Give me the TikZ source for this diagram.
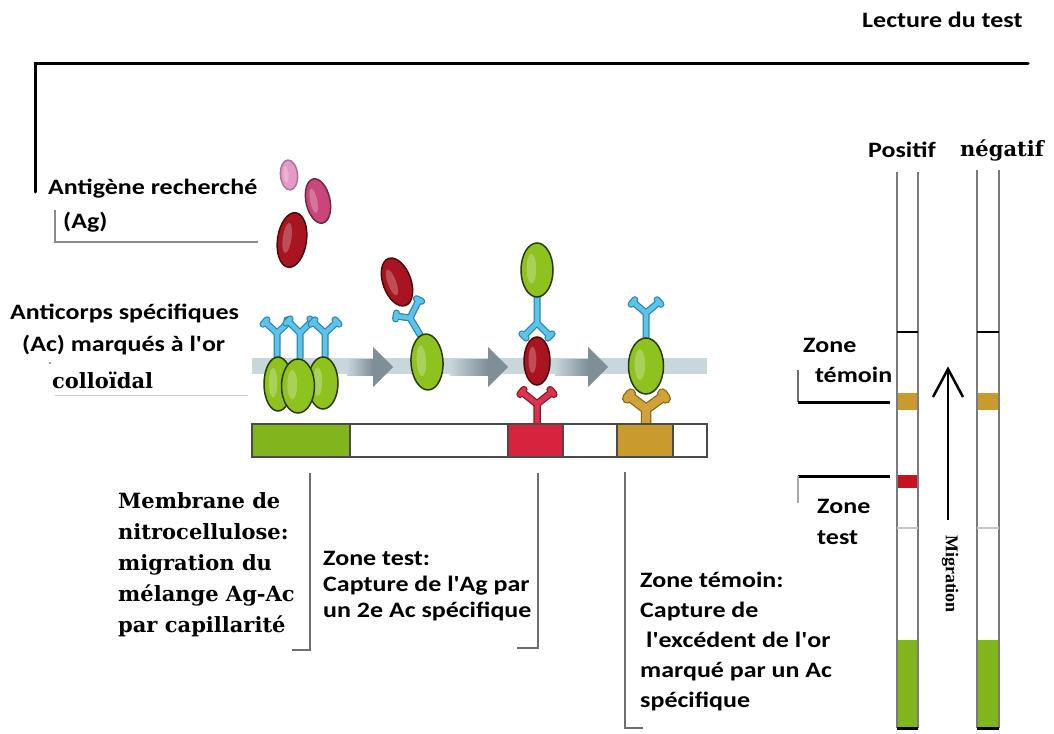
\documentclass[tikz,border=0pt]{standalone}
\usepackage{fontspec}
\setmainfont{Carlito}
\newfontfamily\slabserif{DejaVu Serif}
\newfontfamily\narrowserif{Liberation Serif}
\usetikzlibrary{calc}

\definecolor{partgreen}{HTML}{8DC21F}
\definecolor{partedge}{HTML}{2B3A05}
\definecolor{abblue}{HTML}{5CC3EA}
\definecolor{abblueedge}{HTML}{2C86B0}
\definecolor{abred}{HTML}{D8354D}
\definecolor{abredge}{HTML}{8E1426}
\definecolor{abgold}{HTML}{CFA23A}
\definecolor{abgoldedge}{HTML}{8A6716}
\definecolor{agred}{HTML}{A8141F}
\definecolor{agpink}{HTML}{C9467A}
\definecolor{agpale}{HTML}{E49AC6}
\definecolor{zonered}{HTML}{D8233F}
\definecolor{bandred}{HTML}{C8101E}
\definecolor{zonegold}{HTML}{C99A2E}
\definecolor{stripgreen}{HTML}{80B51B}
\definecolor{flowband}{HTML}{C9D6DB}
\definecolor{flowarrow}{HTML}{7E8F98}
\definecolor{guidegray}{HTML}{6E6E6E}
\definecolor{stripedge}{HTML}{4A4A4A}
\definecolor{tubeedge}{HTML}{7A7A7A}

% straight apostrophe
\newcommand\ap{\textquotesingle}

% ellipse particle with a soft highlight: cx, cy, rx, ry, tilt, fill, edge
\newcommand\blob[7]{%
  \begin{scope}[rotate around={#5:(#1,#2)}]
    \draw[line width=1.5, draw=#7, fill=#6] (#1,#2) ellipse [x radius=#3, y radius=#4];
    \fill[white, opacity=.25] (#1-0.35*#3,#2-0.05*#4) ellipse [x radius=0.3*#3, y radius=0.55*#4];
  \end{scope}}

% Y-shaped antibody: fill, edge, base, fork, tip 1, tip 2, inner width, outer width
\newcommand\antibody[8]{%
  \draw[line width=#8, #2, line cap=round, line join=round]
    #3 -- #4 #5 -- #4 -- #6
    ($#5!3pt!90:#4$) -- ($#5!3pt!-90:#4$) ($#6!3pt!90:#4$) -- ($#6!3pt!-90:#4$);
  \draw[line width=#7, #1, line cap=round, line join=round]
    #3 -- #4 #5 -- #4 -- #6
    ($#5!3pt!90:#4$) -- ($#5!3pt!-90:#4$) ($#6!3pt!90:#4$) -- ($#6!3pt!-90:#4$);}

% grey flow arrow on the band: shaft start, head base, tip
\newcommand\flowarrow[3]{%
  \shade[left color=flowband, right color=flowarrow] (#1,359) rectangle (#2,375);
  \fill[flowarrow] (#2,347) -- (#3,367) -- (#2,387) -- cycle;}

% read-out strip: left edge, right edge, top, extra bands
\newcommand\readstrip[4]{%
  \fill[stripgreen] (#1,640) rectangle (#2,728);
  \fill[zonegold] (#1,393) rectangle (#2,410);
  #4
  \draw[tubeedge, line width=1.8] (#1,#3) -- (#1,728) (#2,#3) -- (#2,728);
  \draw[black, line width=2] (#1,332) -- (#2,332);
  \draw[gray!45, line width=1.5] (#1,528) -- (#2,528);
  \draw[black, line width=3] (#1,728) -- (#2,728);}

\begin{document}
\begin{tikzpicture}[x=1pt,y=-1pt,
  lab/.style={inner sep=0pt, anchor=west, align=left, xscale=1.18,
    font=\bfseries\fontsize{22}{26}\selectfont},
  serlab/.style={inner sep=0pt, anchor=west, align=left,
    font=\slabserif\bfseries\fontsize{21}{31}\selectfont},
  guide/.style={draw=guidegray, line width=1.6},
  rule/.style={draw=black, line width=3},
]
\useasboundingbox (0,0) rectangle (1054,733);
\fill[white] (0,0) rectangle (1054,733);

% frame over the whole process
\draw[rule, line cap=round] (35,192) -- (35,64) -- (1028,64);
\node[lab] (lecture) at (862,20) {Lecture du test};

% antigen label and free antigens
\node[lab] (ag1) at (48,189) {Antigène recherché};
\node[lab] (ag2) at (63,222) {(Ag)};
\draw[guide, draw=guidegray!80] (55,210) -- (55,242) -- (258,242);
\blob{289}{175}{8.5}{15}{5}{agpale}{agpale!75!black}
\blob{318}{201}{12}{22.5}{12}{agpink}{agpink!55!black}
\blob{292}{240}{14.5}{27.5}{-8}{agred}{agred!45!black}

% gold-labelled antibody label
\node[lab] (ac1) at (10,313) {Anticorps spécifiques};
\node[lab] (ac2) at (22,345) {(Ac) marqués à l\ap or};
\node[serlab] (ac3) at (52,380) {colloïdal};
\fill[gray] (50,363) circle (1.2);
\draw[gray!40, line width=1] (55,395) -- (248,395);

% migration band with arrows
\fill[flowband] (252,358) rectangle (707,374);
\flowarrow{347}{373}{393}
\flowarrow{450}{488}{508}
\flowarrow{555}{588}{608}

% step 1: conjugates on the pad
\antibody{abblue}{abblueedge}{(277,358)}{(277,333)}{(265,322)}{(289,322)}{4.5}{7}
\antibody{abblue}{abblueedge}{(300,358)}{(300,333)}{(288,321)}{(312,321)}{4.5}{7}
\antibody{abblue}{abblueedge}{(325,358)}{(325,333)}{(313,322)}{(337,322)}{4.5}{7}
\blob{278}{384}{14}{27}{0}{partgreen}{partedge}
\blob{323}{383}{15}{26}{0}{partgreen}{partedge}
\blob{298}{386}{16.5}{27}{0}{partgreen}{partedge}

% step 2: antigen bound to the conjugate
\antibody{abblue}{abblueedge}{(422,338)}{(410,318)}{(396,316)}{(419,300)}{4.5}{7}
\blob{427}{362}{16}{28}{3}{partgreen}{partedge}
\blob{397}{282}{14}{25}{20}{agred}{agred!45!black}

% step 3: capture on the test line
\antibody{abblue}{abblueedge}{(537,296)}{(537,323)}{(524,336)}{(550,336)}{4.5}{7}
\antibody{abred}{abredge}{(537,424)}{(537,404)}{(522,392)}{(552,392)}{5}{7.5}
\blob{537}{270}{16}{27}{0}{partgreen}{partedge}
\blob{537}{361}{13}{24}{0}{agred}{agred!45!black}

% step 4: capture on the control line
\antibody{abblue}{abblueedge}{(646,338)}{(646,313)}{(633,302)}{(659,302)}{4.5}{7}
\antibody{abgold}{abgoldedge}{(646,424)}{(646,409)}{(629,396)}{(664,396)}{8}{10.5}
\blob{646}{366}{17.5}{28}{0}{partgreen}{partedge}

% membrane strip
\fill[stripgreen] (252,424) rectangle (350,457);
\fill[zonered] (508,424) rectangle (563,457);
\fill[zonegold] (617,424) rectangle (673,457);
\draw[stripedge, line width=1.5] (252,424) rectangle (707,457)
  (350,424) -- (350,457) (508,424) -- (508,457) (563,424) -- (563,457)
  (617,424) -- (617,457) (673,424) -- (673,457);

% captions under the strip
\draw[guide] (310,473) -- (310,650) -- (292,650);
\draw[guide] (538,473) -- (538,648) -- (517,648);
\draw[guide] (625,472) -- (625,728) -- (643,728);
\node[serlab] (membrane) at (118,565)
  {Membrane de\\nitrocellulose:\\migration du\\mélange Ag-Ac\\par capillarité};
\node[lab] (ztest) at (323,586) {Zone test:\\Capture de l\ap Ag par\\un 2e Ac spécifique};
\node[lab, font=\bfseries\fontsize{22}{30}\selectfont] (ztemoin) at (640,642)
  {Zone témoin:\\Capture de\\\hspace*{5pt}l\ap excédent de l\ap or\\marqué par un Ac\\spécifique};

% reading of the result
\node[lab] (positif) at (868,150) {Positif};
\node[serlab, font=\slabserif\bfseries\fontsize{21}{25}\selectfont] (negatif) at (960,150) {négatif};
\readstrip{897}{918}{172}{\fill[bandred] (897,475) rectangle (918,488);}
\readstrip{977}{999}{170}{}

\node[lab, font=\bfseries\fontsize{22}{30}\selectfont] (rtemoin) at (803,360) {Zone\\\hspace*{10pt}témoin};
\draw[guidegray, line width=1.2] (798,370) -- (798,402);
\draw[rule] (798,402) -- (890,402);
\node[lab, font=\bfseries\fontsize{22}{31}\selectfont] (rtest) at (817,522) {Zone\\test};
\draw[rule] (798,476) -- (890,476);
\draw[guidegray!60, line width=1.2] (798,476) -- (798,503);

% migration direction
\coordinate (migtail) at (948,520);
\coordinate (migtip) at (948,369);
\draw[black, line width=2.5] (migtail) -- (migtip);
\draw[black, line width=2.5, line join=miter] (933,397) -- (migtip) -- (963,397);
\node[rotate=-90, inner sep=0pt, font=\narrowserif\bfseries\fontsize{18}{18}\selectfont] (migr) at (950,574) {Migration};
\end{tikzpicture}
\end{document}
